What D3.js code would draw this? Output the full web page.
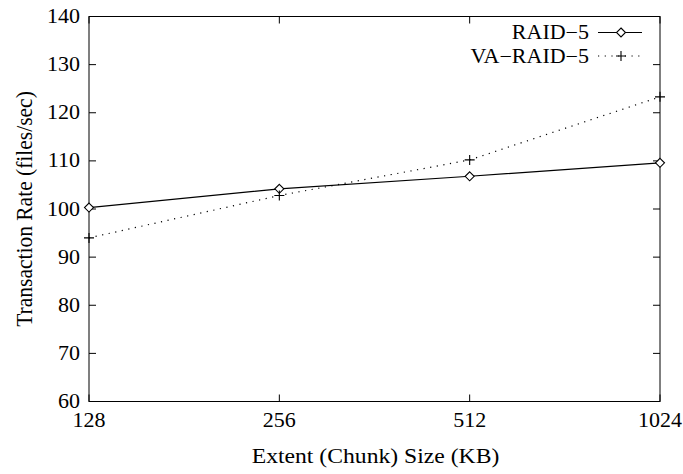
<!DOCTYPE html>
<html>
<head>
<meta charset="utf-8">
<script src="https://cdn.jsdelivr.net/npm/d3@7"></script>
<style>
  body { margin: 0; background: #fff; }
</style>
</head>
<body>
<svg id="chart" width="683" height="474"></svg>
<script>
// Chunk sizes on the x axis (log2 spaced)
const chunkSizes = [128, 256, 512, 1024];
const yTicks = [60, 70, 80, 90, 100, 110, 120, 130, 140];
const raid5 = [100.3, 104.2, 106.8, 109.6];
const vaRaid5 = [94.0, 102.8, 110.2, 123.3];

const FONT = "'Liberation Serif', 'Times New Roman', serif";
const svg = d3.select('#chart').style('font-family', FONT);
const W = 683, H = 474;
const m = { left: 89, right: W - 660, top: 16.5, bottom: H - 401.5 };

const x = d3.scaleLog().base(2).domain([128, 1024]).range([m.left, W - m.right]);
const y = d3.scaleLinear().domain([60, 140]).range([H - m.bottom, m.top]);

const FS = 20;
const SX = 1.1; // source picture is slightly stretched horizontally
const tl = 7;   // inward tick length, gnuplot style
const g = svg.append('g');

const label = (sel, tx, ty, txt, anchor, rot, fs = FS) => sel.append('text')
  .attr('transform', rot
    ? `translate(${tx},${ty}) rotate(-90) scale(1,${SX})`
    : `translate(${tx},${ty}) scale(${SX},1)`)
  .attr('text-anchor', anchor)
  .style('font-family', FONT).style('font-size', fs + 'px').style('fill', '#000')
  .text(txt);

// y ticks, left and mirrored on the right
yTicks.forEach(v => {
  const yy = y(v);
  g.append('line').attr('x1', x(128)).attr('x2', x(128) + tl).attr('y1', yy).attr('y2', yy)
    .attr('stroke', '#000');
  g.append('line').attr('x1', x(1024)).attr('x2', x(1024) - tl).attr('y1', yy).attr('y2', yy)
    .attr('stroke', '#000');
  label(g, x(128) - 9, yy + 6.5, v, 'end');
});

// x ticks, bottom and mirrored on top
chunkSizes.forEach(v => {
  const xx = x(v);
  g.append('line').attr('x1', xx).attr('x2', xx).attr('y1', y(60)).attr('y2', y(60) - tl)
    .attr('stroke', '#000');
  g.append('line').attr('x1', xx).attr('x2', xx).attr('y1', y(140)).attr('y2', y(140) + tl)
    .attr('stroke', '#000');
  label(g, xx, y(60) + 25, v, 'middle');
});

// border
g.append('rect')
  .attr('x', x(128)).attr('y', y(140))
  .attr('width', x(1024) - x(128)).attr('height', y(60) - y(140))
  .attr('fill', 'none').attr('stroke', '#000');

// axis titles
label(svg, (x(128) + x(1024)) / 2 + 1, 463, 'Extent (Chunk) Size (KB)', 'middle', false, 21.5);
label(svg, 32, (y(60) + y(140)) / 2, 'Transaction Rate (files/sec)', 'middle', true, 21.5);

const line = d3.line().x(d => x(d[0])).y(d => y(d[1]));

const diamond = (sel, cx, cy) => {
  const s = 4.5;
  sel.append('path')
    .attr('d', `M${cx},${cy - s} L${cx + s},${cy} L${cx},${cy + s} L${cx - s},${cy} Z`)
    .attr('fill', '#fff').attr('stroke', '#000').attr('stroke-width', 1.1);
};
const plus = (sel, cx, cy) => {
  const s = 5;
  sel.append('path')
    .attr('d', `M${cx - s},${cy} L${cx + s},${cy} M${cx},${cy - s} L${cx},${cy + s}`)
    .attr('fill', 'none').attr('stroke', '#000').attr('stroke-width', 1.1);
};

// RAID-5 (solid, diamonds)
g.append('path')
  .datum(chunkSizes.map((c, i) => [c, raid5[i]]))
  .attr('d', line).attr('fill', 'none').attr('stroke', '#000').attr('stroke-width', 1.2);

// VA-RAID-5 (dotted, plus)
g.append('path')
  .datum(chunkSizes.map((c, i) => [c, vaRaid5[i]]))
  .attr('d', line).attr('fill', 'none').attr('stroke', '#000').attr('stroke-width', 1.2)
  .attr('stroke-dasharray', '1.2,5.5');

chunkSizes.forEach((c, i) => diamond(g, x(c), y(raid5[i])));
chunkSizes.forEach((c, i) => plus(g, x(c), y(vaRaid5[i])));

// legend
const lg = svg.append('g');
const lx0 = 598, lx1 = 642;
[
  { name: 'RAID\u22125', dash: null, mark: diamond, yy: 32.5 },
  { name: 'VA\u2212RAID\u22125', dash: '1.2,5.5', mark: plus, yy: 56 }
].forEach(d => {
  label(lg, 589, d.yy + 6.5, d.name, 'end');
  lg.append('line').attr('x1', lx0).attr('x2', lx1).attr('y1', d.yy).attr('y2', d.yy)
    .attr('stroke', '#000').attr('stroke-width', 1.2)
    .attr('stroke-dasharray', d.dash);
  d.mark(lg, (lx0 + lx1) / 2 + 1, d.yy);
});
</script>
</body>
</html>
